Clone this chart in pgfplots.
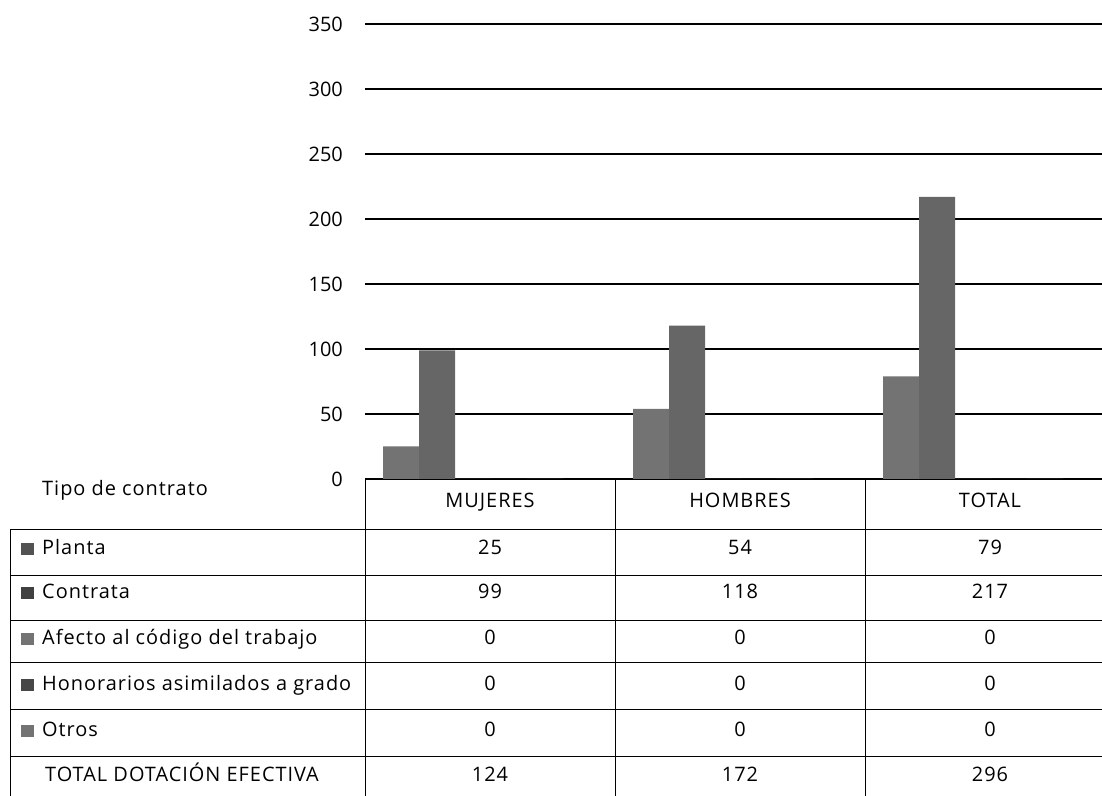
\documentclass[border=0pt]{standalone}
\usepackage{pgfplots}
\pgfplotsset{compat=1.18}
\usepackage{fontspec}
\setmainfont[LetterSpace=5]{Open Sans}
\newfontfamily\numfont{Open Sans}

% series: Planta, Contrata, Afecto, Honorarios, Otros
% x = 0 MUJERES, 1 HOMBRES, 2 TOTAL
\begin{document}
\fontsize{20}{24}\selectfont
\begin{tikzpicture}[x=1bp,y=1bp]
\useasboundingbox (0,0) rectangle (1102,796);

\begin{axis}[
    at={(365bp,317bp)}, anchor=south west,
    scale only axis,
    width=737bp, height=455bp,
    xmin=-0.5, xmax=2.448,
    ymin=0, ymax=350,
    ytick={0,50,...,350},
    xtick=\empty,
    axis line style={draw=none},
    major tick length=0pt,
    ymajorgrids,
    grid style={black, line width=1.1pt},
    yticklabel style={anchor=east, inner sep=0pt, xshift=-22bp, font=\numfont},
    /pgf/number format/assume math mode=true,
    ybar, bar width=0.144,
    clip=false,
]
\addplot[fill=black!55, draw=none, bar shift=-0.356] coordinates {(0,25) (1,54) (2,79)};
\addplot[fill=black!60, draw=none, bar shift=-0.212] coordinates {(0,99) (1,118) (2,217)};
\addplot[fill=black!40, draw=none, bar shift=-0.068] coordinates {(0,0) (1,0) (2,0)};
\addplot[fill=black!60, draw=none, bar shift=0.076] coordinates {(0,0) (1,0) (2,0)};
\addplot[fill=black!40, draw=none, bar shift=0.22] coordinates {(0,0) (1,0) (2,0)};
\end{axis}

% data table under the plot
\begin{scope}[line width=0.8pt]
\draw (365,317) -- (1102,317);
\foreach \y in {267,221,176,134,87,40} \draw (10,\y) -- (1102,\y);
\draw (10,267) -- (10,0);
\foreach \x in {365,615,865} \draw (\x,317) -- (\x,0);
\end{scope}

\node[anchor=base west, inner sep=0pt] at (42,300) {Tipo de contrato};
\node[anchor=base, inner sep=0pt] at (490,288) {MUJERES};
\node[anchor=base, inner sep=0pt] at (740,288) {HOMBRES};
\node[anchor=base, inner sep=0pt] at (990,288) {TOTAL};

\fill[black!68] (21,241) rectangle (34,253);
\fill[black!75] (21,197) rectangle (34,209);
\fill[black!55] (21,151) rectangle (34,163);
\fill[black!72] (21,105) rectangle (34,117);
\fill[black!55] (21,59) rectangle (34,71);

\node[anchor=base west, inner sep=0pt] at (42,241) {Planta};
\node[anchor=base west, inner sep=0pt] at (42,197) {Contrata};
\node[anchor=base west, inner sep=0pt] at (42,151) {Afecto al código del trabajo};
\node[anchor=base west, inner sep=0pt] at (42,105) {Honorarios asimilados a grado};
\node[anchor=base west, inner sep=0pt] at (42,59) {Otros};
\node[anchor=base west, inner sep=0pt] at (45,14) {TOTAL DOTACIÓN EFECTIVA};

\foreach \a/\b/\c/\y in {25/54/79/241, 99/118/217/197, 0/0/0/151, 0/0/0/105, 0/0/0/59, 124/172/296/14} {
  \node[anchor=base, inner sep=0pt] at (490,\y) {\a};
  \node[anchor=base, inner sep=0pt] at (740,\y) {\b};
  \node[anchor=base, inner sep=0pt] at (990,\y) {\c};
}
\end{tikzpicture}
\end{document}
